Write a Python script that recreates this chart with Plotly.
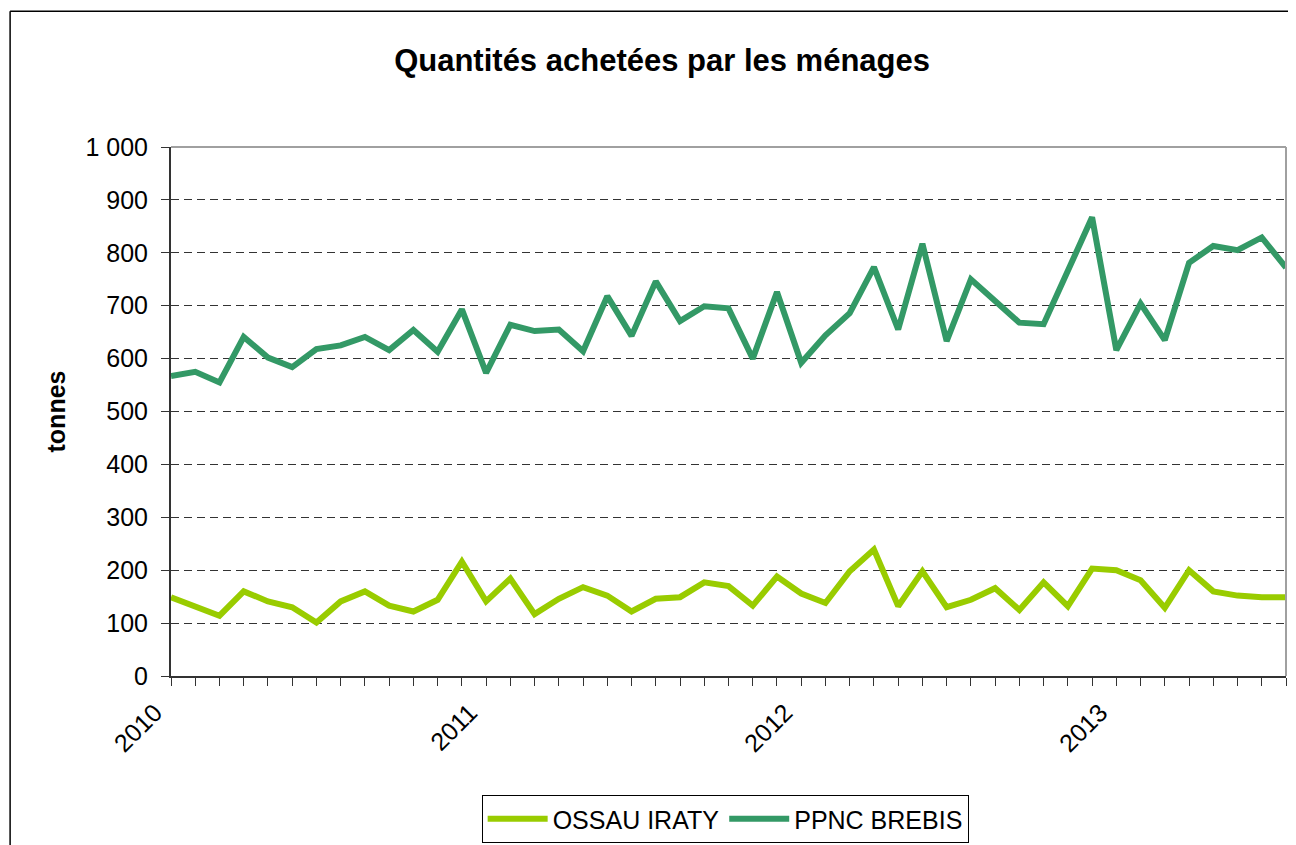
import plotly.graph_objects as go

# periodes de 4 semaines (13 par an), de 2010 P01 a 2013 P08
annees = ['2010', '2011', '2012', '2013']
periodes = [f'{a} P{p:02d}' for a in annees for p in range(1, 14)][:47]

ossau_iraty = [149, 132, 114, 160, 141, 130, 101, 141, 160, 133, 122, 144, 216,
               141, 184, 117, 146, 168, 152, 122, 146, 149, 177, 170, 133, 188,
               156, 138, 198, 239, 132, 198, 130, 144, 166, 125, 177, 132, 203,
               200, 181, 129, 200, 160, 152, 149, 149]
ppnc_brebis = [567, 575, 555, 641, 602, 584, 618, 625, 641, 616, 654, 613, 693,
               573, 664, 652, 655, 614, 718, 643, 746, 671, 699, 695, 600, 726,
               592, 644, 686, 773, 655, 817, 633, 750, 709, 668, 665, 764, 867,
               616, 704, 635, 781, 813, 805, 829, 772]

y_ticks = [0, 100, 200, 300, 400, 500, 600, 700, 800, 900, 1000]
y_labels = ['0', '100', '200', '300', '400', '500', '600', '700', '800', '900', '1 000']

x_labels = [p[:4] if p.endswith('P01') else '' for p in periodes]

FONT = 'Liberation Sans, Arial, sans-serif'

fig = go.Figure()
fig.add_trace(go.Scatter(x=periodes, y=ossau_iraty, name='OSSAU IRATY', mode='lines',
                         line=dict(color='#99cc00', width=6)))
fig.add_trace(go.Scatter(x=periodes, y=ppnc_brebis, name='PPNC BREBIS', mode='lines',
                         line=dict(color='#339966', width=6)))

fig.update_xaxes(type='category', range=[0, len(periodes) - 1],
                 tickmode='array', tickvals=periodes, ticktext=x_labels,
                 tickangle=-45, ticks='outside', ticklen=8, tickcolor='#333',
                 ticklabelshift=-16, ticklabelstandoff=2,
                 showline=True, linecolor='#333', linewidth=2,
                 showgrid=False, zeroline=False,
                 tickfont=dict(family=FONT, size=25, color='black'))
fig.update_yaxes(range=[0, 1000], tickmode='array', tickvals=y_ticks, ticktext=y_labels,
                 ticks='outside', ticklen=8, tickcolor='#333', ticklabelstandoff=8,
                 showline=True, linecolor='#333', linewidth=2,
                 showgrid=True, gridcolor='#333', gridwidth=1, griddash='8px,5px',
                 zeroline=False,
                 tickfont=dict(family=FONT, size=25, color='black'),
                 title=dict(text='tonnes', standoff=13,
                            font=dict(family=FONT, size=25, color='black', weight='bold')))

# cadre du graphique et bordures grises de la zone de tracé
fig.add_shape(type='line', xref='paper', yref='paper', x0=-0.1443, x1=1.05, y0=1.2565, y1=1.2565,
              line=dict(color='black', width=1.5))
fig.add_shape(type='line', xref='paper', yref='paper', x0=-0.1443, x1=-0.1443, y0=1.2565, y1=-0.6,
              line=dict(color='black', width=1.5))
fig.add_shape(type='line', xref='paper', yref='paper', x0=0, x1=1, y0=1, y1=1,
              line=dict(color='#a0a0a0', width=2), layer='above')
fig.add_shape(type='line', xref='paper', yref='paper', x0=1, x1=1, y0=0, y1=1,
              line=dict(color='#a0a0a0', width=2), layer='above')

fig.update_layout(
    width=1280, height=837,
    margin=dict(l=163, r=2, t=139, b=169),
    paper_bgcolor='white', plot_bgcolor='white',
    title=dict(text='Quantités achetées par les ménages', x=0.511, xanchor='center',
               y=0.9379, yanchor='middle',
               font=dict(family=FONT, size=31, color='black', weight='bold')),
    legend=dict(orientation='h', x=0.497, xanchor='center', y=-0.225, yanchor='top',
                bordercolor='black', borderwidth=1, itemwidth=60,
                font=dict(family=FONT, size=25, color='black')),
    showlegend=True,
)

fig.write_html('out.html')
